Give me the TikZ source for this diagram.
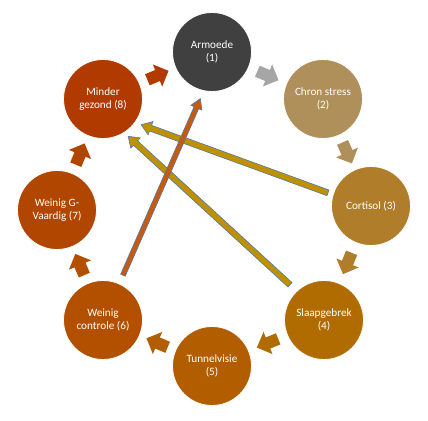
\documentclass[tikz,border=0pt]{standalone}
\usepackage{fontspec}
\setmainfont{Carlito}
\usetikzlibrary{calc}
\definecolor{c1}{HTML}{404040}
\definecolor{a1}{HTML}{A6A6A6}
\definecolor{c2}{HTML}{AF8F5A}
\definecolor{c3}{HTML}{B07D2B}
\definecolor{c4}{HTML}{B06C00}
\definecolor{c5}{HTML}{B25E00}
\definecolor{c6}{HTML}{B25000}
\definecolor{c7}{HTML}{B04600}
\definecolor{c8}{HTML}{B03A00}
\definecolor{gold}{HTML}{BF9000}
\definecolor{rust}{HTML}{C55A11}
\definecolor{arrline}{HTML}{5477A8}
\tikzset{
  x=1pt, y=1pt,
  circ/.style={circle, minimum size=79pt, inner sep=0pt, draw=white, line width=0.8pt,
    text=white, align=center, font=\fontsize{11.2}{12.5}\selectfont},
  longarrow/.style={draw=arrline, line width=0.6pt, line join=miter},
}
\newcommand\smallarr[4]{% #1 from, #2 to, #3 angle, #4 colour
  \fill[#4, shift={($(#1)!.5!(#2)$)}, rotate=#3]
    (-11,-6) -- (0,-6) -- (0,-12) -- (12,0) -- (0,12) -- (0,6) -- (-11,6) -- cycle;}
\newcommand\longarr[5]{% #1 tail, #2 tip, #3 fill, #4 shaft half width, #5 head half width
  \coordinate (#1-b) at ($(#2)!10pt!(#1)$);
  \filldraw[longarrow, fill=#3] ($(#1)!#4!90:(#2)$) -- ($(#1-b)!#4!-90:(#1)$)
    -- ($(#1-b)!#5!-90:(#1)$) -- (#2) -- ($(#1-b)!#5!90:(#1)$)
    -- ($(#1-b)!#4!90:(#1)$) -- ($(#1)!#4!-90:(#2)$) -- cycle;}
\begin{document}
\begin{tikzpicture}
\useasboundingbox (0,0) rectangle (428,420);
\node[circ, fill=c1] (n1) at (212,368) {Armoede\\(1)};
\node[circ, fill=c2] (n2) at (323,321) {Chron stress\\(2)};
\node[circ, fill=c3] (n3) at (371,214) {Cortisol (3)};
\node[circ, fill=c4] (n4) at (324,100) {Slaapgebrek\\(4)};
\node[circ, fill=c5] (n5) at (212,54) {Tunnelvisie\\(5)};
\node[circ, fill=c6] (n6) at (103,100) {Weinig\\controle (6)};
\node[circ, fill=c7] (n7) at (57,210) {Weinig G-\\Vaardig (7)};
\node[circ, fill=c8] (n8) at (103,321) {Minder\\gezond (8)};
\smallarr{n1}{n2}{-23}{a1}
\smallarr{n2}{n3}{-66}{c2}
\smallarr{n3}{n4}{-112}{c3}
\smallarr{n4}{n5}{-158}{c4}
\smallarr{n5}{n6}{157}{c5}
\smallarr{n6}{n7}{113}{c6}
\smallarr{n7}{n8}{67.5}{c7}
\smallarr{n8}{n1}{23}{c8}
\coordinate (At) at ($(n3)+(163:45)$);
\coordinate (Ap) at ($(n8)+(-34:46)$);
\coordinate (Bt) at ($(n4)+(134:49)$);
\coordinate (Bp) at ($(n8)+(-56:45)$);
\coordinate (Ct) at ($(n6)+(66:49)$);
\coordinate (Cp) at ($(n1)+(-104:48)$);
\longarr{At}{Ap}{gold}{3pt}{7pt}
\longarr{Bt}{Bp}{gold}{3pt}{7pt}
\longarr{Ct}{Cp}{rust}{2.5pt}{6pt}
\end{tikzpicture}
\end{document}
